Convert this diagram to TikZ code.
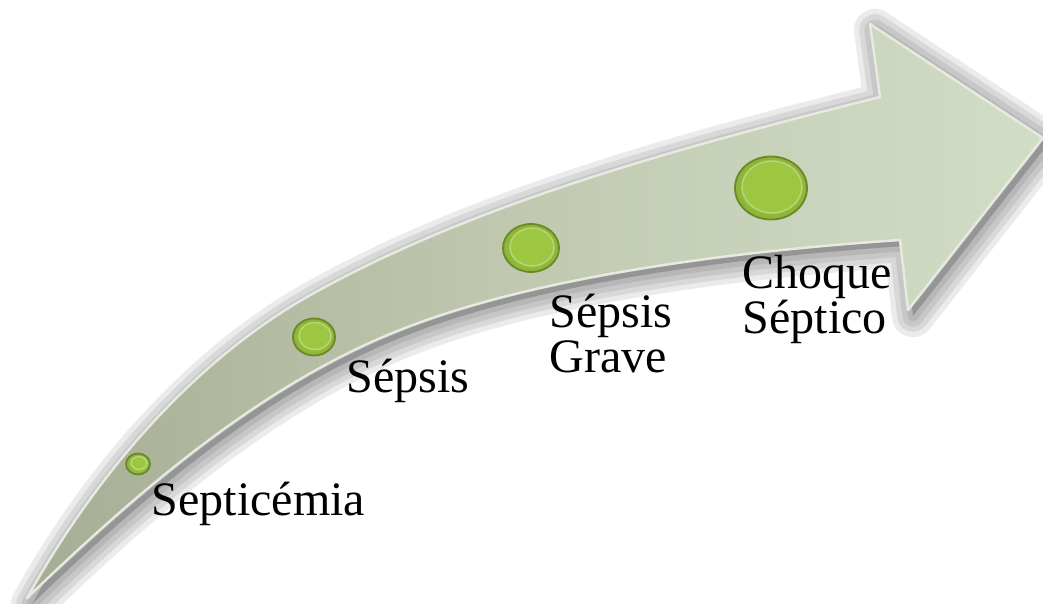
\documentclass[tikz,border=0pt]{standalone}
\usepackage{fontspec}
\setmainfont{Liberation Serif}
\usetikzlibrary{shapes.geometric}
\definecolor{arrowL}{HTML}{A6AD95}
\definecolor{arrowM}{HTML}{C1CAB1}
\definecolor{arrowR}{HTML}{D2DDC6}
\definecolor{ballIn}{HTML}{A9D04C}
\definecolor{ballOut}{HTML}{8BB335}
\definecolor{ballRim}{HTML}{6A8826}
\definecolor{ballDisc}{HTML}{9EC741}
\newcommand\lblfont{\fontsize{13.66pt}{12.52pt}\selectfont\lineskiplimit=-100pt\relax}
\def\arrowshape{(27,598) .. controls (100,467) and (200,356) .. (314,293) .. controls (480,201) and (686,146) .. (880,97) -- (870,24) -- (1043,138) -- (908,310) -- (900,240) .. controls (750,250) and (540,274) .. (400,330) .. controls (260,385) and (135,494) .. (27,598) -- cycle}
\tikzset{
  ball/.style={ellipse, inner sep=0pt, draw=ballRim, line width=0.5pt, inner color=ballIn, outer color=ballOut},
  disc/.style={fill=ballDisc, draw=white, draw opacity=0.3, line width=0.45pt},
  lbl/.style={anchor=base west, inner sep=0pt, align=left, font=\lblfont, text=black}
}
\begin{document}
\begin{tikzpicture}[x=0.01cm, y=-0.01cm]
\useasboundingbox[fill=white] (0,0) rectangle (1043,603);
% soft shadow
\foreach \w in {12,9,6,3}{
  \draw[black, opacity=0.08, line width=\w pt, line join=round, shift={(5,6)}] \arrowshape;
}
\fill[black, opacity=0.18, shift={(5,6)}] \arrowshape;
% arrow body
\shade[left color=arrowL, right color=arrowR, middle color=arrowM, draw=white!60!arrowM, line width=0.7pt, line join=round] \arrowshape;
% balls
\node[ball, minimum width=0.24cm, minimum height=0.21cm] (b1) at (138,464) {};
\node[ball, minimum width=0.42cm, minimum height=0.37cm] (b2) at (314,337) {};
\node[ball, minimum width=0.56cm, minimum height=0.48cm] (b3) at (531,248) {};
\node[ball, minimum width=0.72cm, minimum height=0.63cm] (b4) at (771,188) {};
\foreach \n/\rx/\ry in {b1/8/6.5, b2/16/13.5, b3/22/19, b4/30/26}{
  \path[disc] ([shift={(1,-1)}]\n.center) ellipse [x radius=\rx, y radius=\ry];
}
% labels
\node[lbl] (t1) at (151,515) {Septicémia};
\node[lbl] (t2) at (346,392) {Sépsis};
\node[lbl] (t3) at (549,372) {Sépsis\\Grave};
\node[lbl] (t4) at (742,333) {Choque\\Séptico};
\end{tikzpicture}
\end{document}
